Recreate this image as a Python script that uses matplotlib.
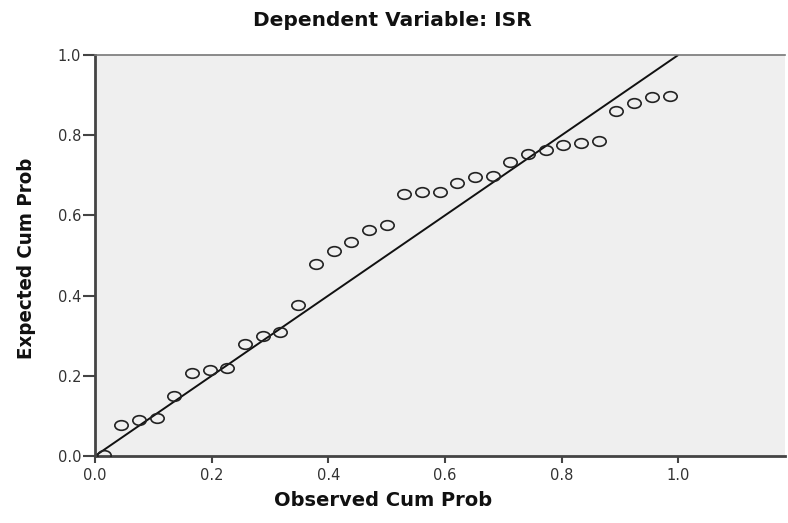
import matplotlib
matplotlib.use("Agg")
import matplotlib.pyplot as plt
from matplotlib.path import Path
from matplotlib.transforms import Affine2D

# ---- data ----
observed_cum_prob = [0.015, 0.045, 0.076, 0.106, 0.136, 0.167, 0.197, 0.227,
                     0.258, 0.288, 0.318, 0.348, 0.379, 0.409, 0.439, 0.470,
                     0.500, 0.530, 0.561, 0.591, 0.621, 0.652, 0.682, 0.712,
                     0.742, 0.773, 0.803, 0.833, 0.864, 0.894, 0.924, 0.955,
                     0.985]
expected_cum_prob = [0.003, 0.077, 0.090, 0.095, 0.150, 0.207, 0.214, 0.219,
                     0.279, 0.299, 0.309, 0.377, 0.479, 0.511, 0.534, 0.564,
                     0.576, 0.653, 0.658, 0.658, 0.681, 0.696, 0.698, 0.733,
                     0.753, 0.763, 0.776, 0.781, 0.786, 0.860, 0.880, 0.895,
                     0.898]
reference_line = [0.0, 1.0]
tick_values = [0.0, 0.2, 0.4, 0.6, 0.8, 1.0]
tick_labels = ["0.0", "0.2", "0.4", "0.6", "0.8", "1.0"]
title_text = "Dependent Variable: ISR"
x_label = "Observed Cum Prob"
y_label = "Expected Cum Prob"

W, H = 788, 523
fig = plt.figure(figsize=(W / 100, H / 100), dpi=100)
fig.patch.set_facecolor("white")

left, right, top, bottom = 95, 785, 55, 456
ax = fig.add_axes([left / W, 1 - bottom / H, (right - left) / W, (bottom - top) / H])
ax.set_facecolor("#efefef")

# reference line
ax.plot(reference_line, reference_line, color="#111111", lw=1.4, zorder=2,
        solid_capstyle="butt")

# elliptical open markers
ellipse = Path.unit_circle().transformed(Affine2D().scale(1.0, 0.72))
ax.plot(observed_cum_prob, expected_cum_prob, linestyle="none", marker=ellipse,
        markersize=9.6, markerfacecolor="none", markeredgecolor="#222222",
        markeredgewidth=1.2, zorder=3)

ax.set_xlim(0, 1.183)
ax.set_ylim(0, 1.0)
ax.set_xticks(tick_values)
ax.set_xticklabels(tick_labels)
ax.set_yticks(tick_values)
ax.set_yticklabels(tick_labels)

for s in ["left", "bottom"]:
    ax.spines[s].set_color("#444444")
    ax.spines[s].set_linewidth(2.0)
ax.spines["top"].set_color("#777777")
ax.spines["top"].set_linewidth(1.2)
ax.spines["right"].set_visible(False)

for lbl in ax.get_xticklabels() + ax.get_yticklabels():
    lbl.set_family("DejaVu Sans")
ax.tick_params(axis="both", direction="out", width=1.5,
               color="#444444", labelsize=10.5, labelcolor="#333333")
ax.tick_params(axis="x", length=5, pad=4)
ax.tick_params(axis="y", length=9, pad=1)

fig.text(392 / W, 1 - 20 / H, title_text, ha="center", va="center",
         fontsize=14.5, fontweight="bold", family="DejaVu Sans", color="#111111")
fig.text(383 / W, 1 - 500 / H, x_label, ha="center", va="center",
         fontsize=14, fontweight="bold", family="DejaVu Sans", color="#111111")
fig.text(27 / W, 1 - 258 / H, y_label, ha="center", va="center", rotation=90,
         fontsize=14.7, fontweight="bold", family="DejaVu Sans",
         fontstretch="condensed", color="#111111")

fig.savefig("out.png", dpi=100)
